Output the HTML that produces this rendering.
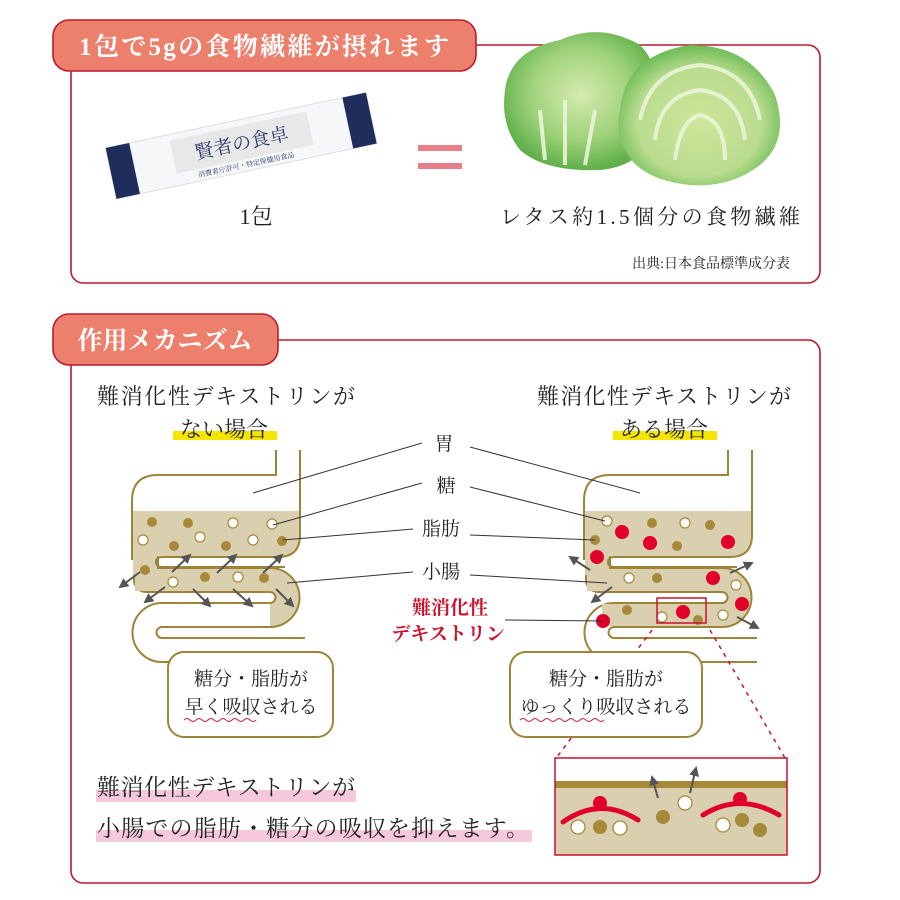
<!DOCTYPE html>
<html><head><meta charset="utf-8"><style>
html,body{margin:0;padding:0;background:#fff;}
svg{display:block;}
.s{font-family:"Liberation Serif","Noto Serif CJK JP","Noto Serif CJK SC",serif;}
</style></head><body>
<svg width="900" height="900" viewBox="0 0 900 900" xmlns="http://www.w3.org/2000/svg" class="s">
<defs>
<marker id="ah" viewBox="0 0 10 10" refX="8" refY="5" markerWidth="5" markerHeight="5" orient="auto"><path d="M0,0 L10,5 L0,10 z" fill="#555"/></marker>
<radialGradient id="g1" cx="50%" cy="45%" r="55%"><stop offset="0" stop-color="#d6ebb0"/><stop offset="0.6" stop-color="#9fd27a"/><stop offset="1" stop-color="#5fb04a"/></radialGradient>
<radialGradient id="g2" cx="50%" cy="55%" r="55%"><stop offset="0" stop-color="#cfe69a"/><stop offset="0.7" stop-color="#b9dc8e"/><stop offset="1" stop-color="#6cbb56"/></radialGradient>
</defs>

<!-- Box 1 -->
<rect x="71" y="45" width="749" height="238" rx="12" fill="none" stroke="#b81c2c" stroke-width="1.6"/>
<rect x="53" y="20" width="423" height="51" rx="16" fill="#ec806c" stroke="#b81c2c" stroke-width="1.6"/>
<text x="264" y="55" text-anchor="middle" font-size="25" fill="#fff" font-weight="bold" textLength="370">1包で5gの食物繊維が摂れます</text>

<!-- packet -->
<g transform="rotate(-12 240 145)">
<rect x="108" y="120" width="266" height="52" fill="#f6f7f9" stroke="#ddd"/>
<rect x="108" y="120" width="24" height="52" fill="#1e2d5c"/>
<rect x="350" y="120" width="24" height="52" fill="#1e2d5c"/>
<rect x="172" y="126" width="140" height="34" fill="#e8e8e8"/>
<text x="242" y="150" text-anchor="middle" font-size="19" fill="#2a3a6a">賢者の食卓</text>
<text x="242" y="168" text-anchor="middle" font-size="7" fill="#2a3a6a">消費者庁許可・特定保健用食品</text>
</g>
<rect x="418" y="145" width="44" height="6" fill="#e8808a"/>
<rect x="418" y="163" width="44" height="6" fill="#e8808a"/>
<text x="256" y="224" text-anchor="middle" font-size="22" fill="#222">1包</text>

<!-- lettuce -->
<path d="M505,90 Q510,50 560,40 Q600,22 640,45 Q665,70 655,120 Q650,165 600,170 Q545,172 520,150 Q500,125 505,90z" fill="url(#g1)"/>
<path d="M620,110 Q625,55 690,45 Q750,45 775,95 Q790,140 760,165 Q730,188 690,185 Q640,180 625,150 Q615,130 620,110z" fill="url(#g2)"/>
<g fill="none" stroke="#eaf5d8" stroke-width="4" opacity="0.9">
<path d="M640,120 Q650,70 700,65 Q750,70 760,120"/>
<path d="M655,140 Q660,95 700,90 Q740,95 745,140"/>
<path d="M675,160 Q680,120 700,115 Q725,120 725,160"/>
<path d="M545,160 L540,110 M565,165 L565,100 M585,165 L595,110"/>
</g>
<text x="650" y="224" text-anchor="middle" font-size="21" fill="#222" textLength="300">レタス約1.5個分の食物繊維</text>
<text x="790" y="268" text-anchor="end" font-size="14" fill="#222">出典:日本食品標準成分表</text>

<!-- Box 2 -->
<rect x="71" y="340" width="749" height="543" rx="12" fill="none" stroke="#b81c2c" stroke-width="1.6"/>
<rect x="53" y="314" width="225" height="51" rx="16" fill="#ec806c" stroke="#b81c2c" stroke-width="1.6"/>
<text x="165" y="349" text-anchor="middle" font-size="25" fill="#fff" font-weight="bold">作用メカニズム</text>

<text x="97" y="404" font-size="22" fill="#222" textLength="258">難消化性デキストリンが</text>
<rect x="173" y="431" width="104" height="9" fill="#f5e600"/>
<text x="224" y="437" text-anchor="middle" font-size="22" fill="#222">ない場合</text>
<text x="537" y="404" font-size="22" fill="#222" textLength="254">難消化性デキストリンが</text>
<rect x="613" y="431" width="104" height="9" fill="#f5e600"/>
<text x="664" y="437" text-anchor="middle" font-size="22" fill="#222">ある場合</text>

<!-- Left intestine -->
<g>
<path d="M146,545 V580 H270 A17.5,17.5 0 0 1 270,615 H162 A17.5,17.5 0 0 0 162,650 H305" fill="none" stroke="#9c8438" stroke-width="26" stroke-linejoin="round"/>
<path d="M146,545 V580 H270 A17.5,17.5 0 0 1 270,615 H162" fill="none" stroke="#dacfae" stroke-width="22"/>
<path d="M162,615 A17.5,17.5 0 0 0 162,650 H310" fill="none" stroke="#fff" stroke-width="22"/>
<path d="M270,615 H162" fill="none" stroke="#fff" stroke-width="22"/>
<path d="M133,476 H277 V458 H299 V535 Q299,556 278,556 H146 V560 H133z" fill="#fff"/>
<path d="M133,511 H299 V535 Q299,556 278,556 H160 Q150,556 150,566 V575 H133z" fill="#dacfae"/>
<path d="M276,450 V475 H158 Q132,475 132,501 V560" fill="none" stroke="#9c8438" stroke-width="2"/>
<path d="M300,450 V535 Q300,557 278,557 H163 Q156,557 156,562 Q156,567 163,567 H285" fill="none" stroke="#9c8438" stroke-width="2"/>
</g>
<g fill="#a68a3a"><circle cx="152" cy="522" r="5"/><circle cx="188" cy="523" r="5"/><circle cx="174" cy="546" r="5"/><circle cx="226" cy="546" r="5"/><circle cx="282" cy="541" r="5"/><circle cx="145" cy="570" r="5"/><circle cx="205" cy="577" r="5"/><circle cx="264" cy="578" r="5"/></g>
<g fill="#fff" stroke="#a68a3a" stroke-width="1.2"><circle cx="233" cy="523" r="5"/><circle cx="272" cy="524" r="5"/><circle cx="143" cy="540" r="5"/><circle cx="200" cy="537" r="5"/><circle cx="253" cy="540" r="5"/><circle cx="173" cy="582" r="5"/><circle cx="238" cy="577" r="5"/></g>
<g stroke="#555" stroke-width="2" marker-end="url(#ah)">
<line x1="140" y1="572" x2="120" y2="587"/><line x1="165" y1="587" x2="145" y2="602"/>
<line x1="172" y1="572" x2="190" y2="555"/><line x1="217" y1="573" x2="236" y2="555"/><line x1="263" y1="573" x2="282" y2="555"/>
<line x1="193" y1="589" x2="210" y2="606"/><line x1="233" y1="589" x2="252" y2="606"/><line x1="276" y1="589" x2="293" y2="606"/>
</g>
<rect x="168" y="652" width="165" height="85" rx="16" fill="#fff" stroke="#9c8438" stroke-width="2"/>
<text x="251" y="685" text-anchor="middle" font-size="19" fill="#222">糖分・脂肪が</text>
<text x="251" y="713" text-anchor="middle" font-size="19" fill="#222">早く吸収される</text>
<path d="M184,720 q3,-3 6,0 t6,0 t6,0 t6,0 t6,0 t6,0 t6,0 t6,0 t6,0 t6,0 t6,0 t6,0" fill="none" stroke="#d0204a" stroke-width="1"/>

<!-- Right intestine -->
<g transform="translate(452,0)">
<path d="M146,545 V580 H270 A17.5,17.5 0 0 1 270,615 H162 A17.5,17.5 0 0 0 162,650 H305" fill="none" stroke="#9c8438" stroke-width="26" stroke-linejoin="round"/>
<path d="M146,545 V580 H270 A17.5,17.5 0 0 1 270,615 H162" fill="none" stroke="#dacfae" stroke-width="22"/>
<path d="M162,615 A17.5,17.5 0 0 0 162,650 H310" fill="none" stroke="#fff" stroke-width="22"/>
<path d="M270,615 H150" fill="none" stroke="#dacfae" stroke-width="22"/>
<path d="M133,476 H277 V458 H299 V535 Q299,556 278,556 H146 V560 H133z" fill="#fff"/>
<path d="M133,511 H299 V535 Q299,556 278,556 H160 Q150,556 150,566 V575 H133z" fill="#dacfae"/>
<path d="M276,450 V475 H158 Q132,475 132,501 V560" fill="none" stroke="#9c8438" stroke-width="2"/>
<path d="M300,450 V535 Q300,557 278,557 H163 Q156,557 156,562 Q156,567 163,567 H285" fill="none" stroke="#9c8438" stroke-width="2"/>
</g>
<g fill="#fff" stroke="#a68a3a" stroke-width="1.2"><circle cx="607" cy="521" r="5"/><circle cx="685" cy="523" r="5"/><circle cx="629" cy="578" r="5"/><circle cx="736" cy="585" r="5"/><circle cx="723" cy="615" r="5"/><circle cx="662" cy="617" r="5"/></g>
<g fill="#a68a3a"><circle cx="652" cy="523" r="5"/><circle cx="710" cy="525" r="5"/><circle cx="595" cy="540" r="5"/><circle cx="677" cy="546" r="5"/><circle cx="657" cy="578" r="5"/><circle cx="627" cy="610" r="5"/><circle cx="698" cy="620" r="5"/></g>
<g fill="#e0002a"><circle cx="622" cy="532" r="7"/><circle cx="650" cy="543" r="7"/><circle cx="728" cy="542" r="7"/><circle cx="597" cy="557" r="7"/><circle cx="713" cy="578" r="7"/><circle cx="742" cy="604" r="7"/><circle cx="683" cy="612" r="7"/><circle cx="603" cy="621" r="7"/></g>
<g stroke="#555" stroke-width="2" marker-end="url(#ah)">
<line x1="590" y1="570" x2="570" y2="557"/><line x1="612" y1="587" x2="592" y2="602"/>
<line x1="730" y1="573" x2="752" y2="563"/><line x1="737" y1="617" x2="758" y2="628"/>
</g>
<rect x="657" y="598" width="49" height="25" fill="none" stroke="#c8102e" stroke-width="1.5"/>
<g stroke="#c8102e" stroke-width="1.5" stroke-dasharray="4,5"><line x1="652" y1="630" x2="557" y2="757"/><line x1="710" y1="630" x2="785" y2="758"/></g>
<rect x="510" y="652" width="192" height="85" rx="16" fill="#fff" stroke="#9c8438" stroke-width="2"/>
<text x="606" y="685" text-anchor="middle" font-size="19" fill="#222">糖分・脂肪が</text>
<text x="606" y="713" text-anchor="middle" font-size="19" fill="#222">ゆっくり吸収される</text>
<path d="M520,720 q3,-3 6,0 t6,0 t6,0 t6,0 t6,0 t6,0 t6,0 t6,0 t6,0 t6,0 t6,0 t6,0 t6,0 t6,0" fill="none" stroke="#d0204a" stroke-width="1"/>

<!-- inset -->
<rect x="555" y="758" width="232" height="97" fill="#fff"/>
<rect x="555" y="788" width="232" height="67" fill="#dacfae"/>
<rect x="555" y="781" width="232" height="7" fill="#a68a3a"/>
<rect x="555" y="758" width="232" height="97" fill="none" stroke="#c8102e" stroke-width="1.5"/>
<g fill="none" stroke="#e0002a" stroke-width="5" stroke-linecap="round">
<path d="M563,822 Q600,796 638,820"/><path d="M703,815 Q740,792 779,815"/>
</g>
<g fill="#e0002a"><circle cx="600" cy="803" r="7"/><circle cx="740" cy="799" r="7"/></g>
<g fill="#fff" stroke="#a68a3a" stroke-width="1.3"><circle cx="578" cy="827" r="7"/><circle cx="620" cy="828" r="7"/><circle cx="685" cy="803" r="7"/><circle cx="723" cy="825" r="7"/></g>
<g fill="#a68a3a"><circle cx="600" cy="827" r="7"/><circle cx="663" cy="817" r="7"/><circle cx="742" cy="820" r="7"/><circle cx="760" cy="830" r="7"/></g>
<g stroke="#555" stroke-width="2" marker-end="url(#ah)"><line x1="658" y1="798" x2="652" y2="777"/><line x1="690" y1="793" x2="696" y2="768"/></g>

<!-- labels -->
<g stroke="#333" stroke-width="1">
<line x1="422" y1="443" x2="253" y2="493"/><line x1="470" y1="447" x2="640" y2="493"/>
<line x1="422" y1="483" x2="273" y2="525"/><line x1="470" y1="487" x2="605" y2="521"/>
<line x1="413" y1="529" x2="283" y2="540"/><line x1="470" y1="535" x2="595" y2="540"/>
<line x1="413" y1="572" x2="287" y2="583"/><line x1="470" y1="575" x2="607" y2="583"/>
<line x1="505" y1="620" x2="603" y2="621"/>
</g>
<text x="444" y="450" text-anchor="middle" font-size="19" fill="#222">胃</text>
<text x="446" y="492" text-anchor="middle" font-size="19" fill="#222">糖</text>
<text x="441" y="535" text-anchor="middle" font-size="19" fill="#222">脂肪</text>
<text x="441" y="578" text-anchor="middle" font-size="19" fill="#222">小腸</text>
<text x="450" y="614" text-anchor="middle" font-size="19" fill="#d0102a" font-weight="bold">難消化性</text>
<text x="448" y="640" text-anchor="middle" font-size="19" fill="#d0102a" font-weight="bold">デキストリン</text>

<!-- bottom -->
<rect x="96" y="790" width="260" height="12" fill="#f5c8da"/>
<text x="97" y="795" font-size="23" fill="#222" textLength="258">難消化性デキストリンが</text>
<rect x="96" y="830" width="436" height="12" fill="#f5c8da"/>
<text x="97" y="836" font-size="23" fill="#222" textLength="432">小腸での脂肪・糖分の吸収を抑えます。</text>
</svg>
</body></html>
